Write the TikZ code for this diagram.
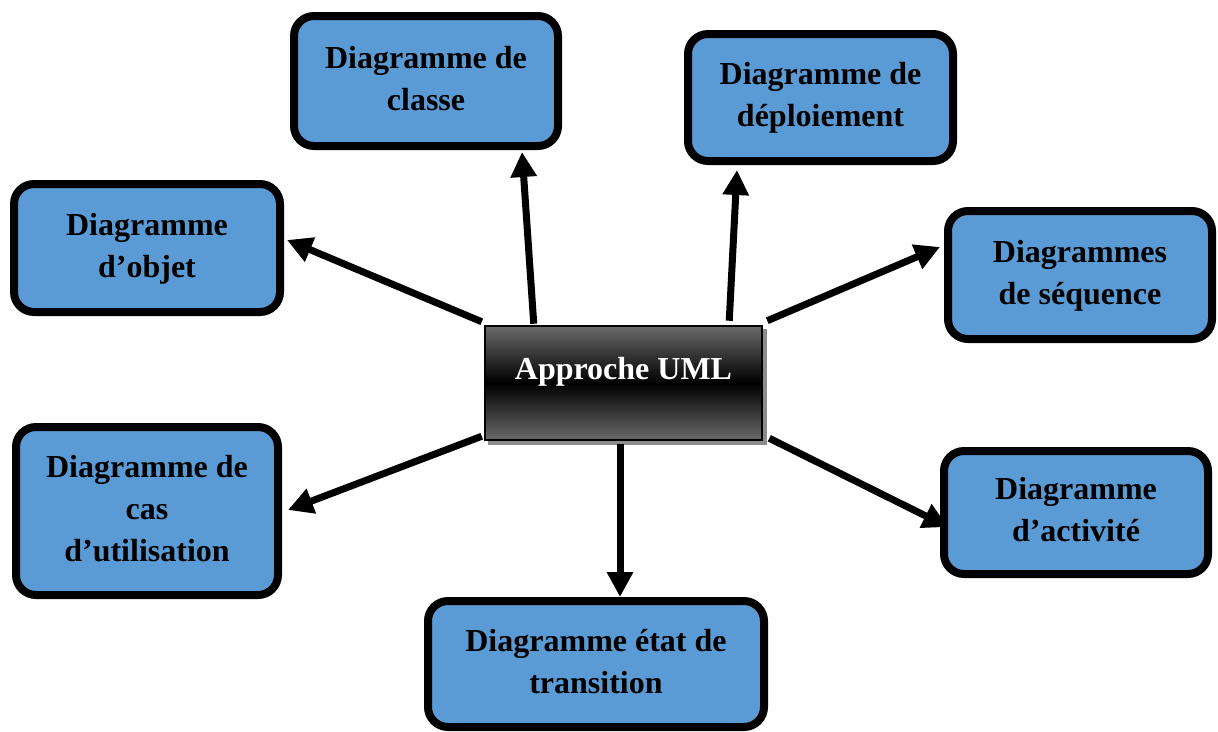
\documentclass[tikz,border=0pt]{standalone}
\usepackage{fontspec}
\setmainfont{Liberation Serif}
\usetikzlibrary{arrows.meta,calc,backgrounds}
\definecolor{boxblue}{HTML}{5B9BD5}
\definecolor{shadowgray}{HTML}{8C8C8C}
\definecolor{midgray}{HTML}{6A6A6A}
\newcommand\liftlines[2]{\raisebox{#1}{\begin{tabular}{@{}c@{}}#2\end{tabular}}}
\tikzset{
  diabox/.style={draw=black, line width=8pt, fill=boxblue, rounded corners=20pt,
    align=center, inner sep=0pt, font=\fontsize{32}{42}\selectfont\bfseries},
  centerbox/.style={draw=black, line width=2.5pt, top color=midgray, bottom color=midgray,
    middle color=black, minimum width=277pt, minimum height=114pt, inner sep=0pt,
    text=white, font=\fontsize{32}{42}\selectfont\bfseries},
  arr/.style={line width=7pt, -{Triangle[length=25pt,width=25pt]}}
}
\begin{document}
\begin{tikzpicture}[x=1pt,y=-1pt]
\useasboundingbox (0,0) rectangle (1218,731);
\node[centerbox] (c) at (623.5,383) {\raisebox{30pt}{Approche UML}};
\begin{scope}[on background layer]
\fill[shadowgray] ($(c.south west)+(4,4)$) rectangle ($(c.north east)+(4,4)$);
\end{scope}
\node[diabox, minimum width=264pt, minimum height=130pt] (cls) at (426,81) {\liftlines{8pt}{Diagramme de\\classe}};
\node[diabox, minimum width=265pt, minimum height=127pt] (dep) at (820.5,97.5) {\liftlines{6pt}{Diagramme de\\déploiement}};
\node[diabox, minimum width=266pt, minimum height=128pt] (obj) at (147,248) {\liftlines{8pt}{Diagramme\\d’objet}};
\node[diabox, minimum width=264pt, minimum height=128pt] (seq) at (1080,275) {\liftlines{6pt}{Diagrammes\\de séquence}};
\node[diabox, minimum width=262pt, minimum height=168pt] (cas) at (147,511) {\liftlines{6pt}{Diagramme de\\cas\\d’utilisation}};
\node[diabox, minimum width=264pt, minimum height=123pt] (act) at (1076,512.5) {\liftlines{6pt}{Diagramme\\d’activité}};
\node[diabox, minimum width=336pt, minimum height=126pt] (tr) at (596,664) {\liftlines{8pt}{Diagramme état de\\transition}};
\draw[arr] ($(c.north west)+(50,-1)$) -- ($(cls.south)+(96,2)$);
\draw[arr] ($(c.north east)+(-34,-4)$) -- ($(dep.south)+(-83.5,5)$);
\draw[arr] ($(c.north west)+(-2,-3)$) -- ($(obj.east)+(3,-8)$);
\draw[arr] ($(c.north east)+(4,-4)$) -- ($(seq.west)+(-4,-28)$);
\draw[arr] ($(c.south west)+(-2,-5)$) -- ($(cas.east)+(6,-1)$);
\draw[arr] ($(c.south east)+(6,-3)$) -- ($(act.west)+(8,14.5)$);
\draw[arr] ($(c.south)+(-3.5,3)$) -- ($(tr.north)+(24,0)$);
\end{tikzpicture}
\end{document}
